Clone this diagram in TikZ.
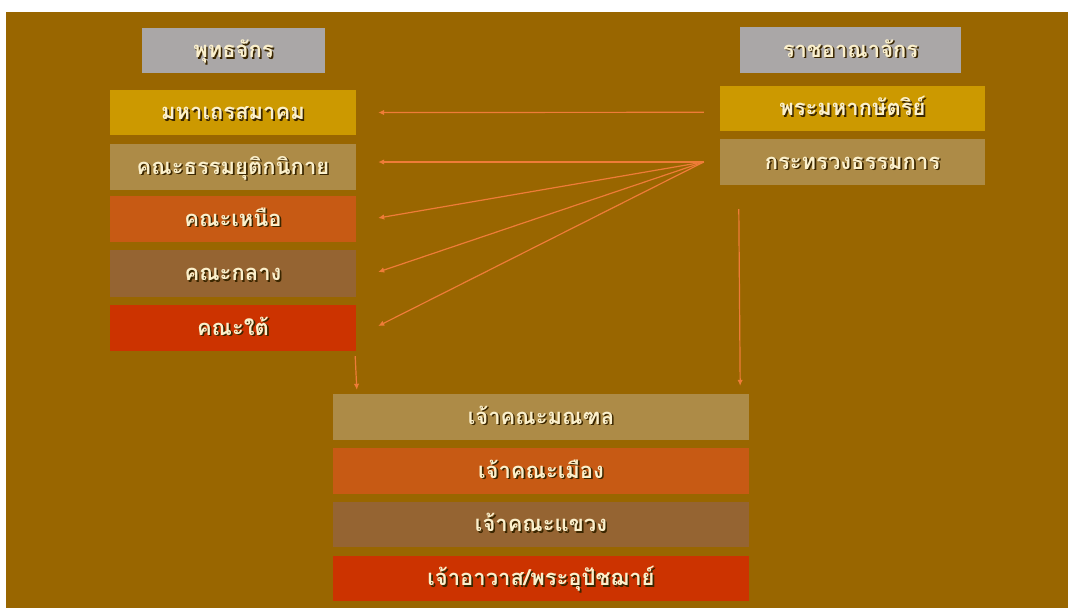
\documentclass[tikz,border=0pt]{standalone}
\usepackage{fontspec}
\newfontfamily\thaifont[Script=Thai]{Loma}
\usetikzlibrary{arrows.meta}
\definecolor{bgbrown}{HTML}{996600}
\definecolor{cgrey}{HTML}{AAA7A7}
\definecolor{cgold}{HTML}{CC9900}
\definecolor{ctan}{HTML}{AD8B47}
\definecolor{corange}{HTML}{C75A14}
\definecolor{cbrown}{HTML}{956432}
\definecolor{cred}{HTML}{CC3300}
\definecolor{carrow}{HTML}{EE7C38}
\definecolor{ctext}{HTML}{FBF0CC}
\definecolor{cshadow}{HTML}{3A2600}
\newcommand\shtxt[1]{\makebox[0pt][l]{\hspace{1.6pt}\raisebox{-1.6pt}{\color{cshadow}#1}}#1}
\tikzset{
  box/.style={rectangle, inner sep=0pt, text=ctext, text height=18pt, text depth=4pt,
    font=\thaifont\bfseries\fontsize{22}{26}\selectfont},
  conn/.style={draw=carrow, line width=1.2pt, -{Latex[length=6pt,width=5.5pt]}},
}
\begin{document}
\begin{tikzpicture}[x=1pt,y=-1pt]
\useasboundingbox (0,0) rectangle (1068,608);
\fill[white] (0,0) rectangle (1068,608);
\fill[bgbrown] (6,12) rectangle (1068,608);
% left column
\node[box, fill=cgrey, minimum width=183pt, minimum height=45pt] (bud) at (233.5,50.5) {\shtxt{พุทธจักร}};
\node[box, fill=cgold, minimum width=246pt, minimum height=45pt] (mahathera) at (233,112.5) {\shtxt{มหาเถรสมาคม}};
\node[box, fill=ctan, minimum width=246pt, minimum height=46pt] (thammayut) at (233,167) {\shtxt{คณะธรรมยุติกนิกาย}};
\node[box, fill=corange, minimum width=246pt, minimum height=46pt] (nuea) at (233,219) {\shtxt{คณะเหนือ}};
\node[box, fill=cbrown, minimum width=246pt, minimum height=47pt] (klang) at (233,273.5) {\shtxt{คณะกลาง}};
\node[box, fill=cred, minimum width=246pt, minimum height=46pt] (tai) at (233,328) {\shtxt{คณะใต้}};
% right column
\node[box, fill=cgrey, minimum width=221pt, minimum height=46pt] (rat) at (850.5,50) {\shtxt{ราชอาณาจักร}};
\node[box, fill=cgold, minimum width=265pt, minimum height=45pt] (king) at (852.5,108.5) {\shtxt{พระมหากษัตริย์}};
\node[box, fill=ctan, minimum width=265pt, minimum height=46pt] (ministry) at (852.5,162) {\shtxt{กระทรวงธรรมการ}};
% bottom column
\node[box, fill=ctan, minimum width=416pt, minimum height=46pt] (mandala) at (541,417) {\shtxt{เจ้าคณะมณฑล}};
\node[box, fill=corange, minimum width=416pt, minimum height=46pt] (mueang) at (541,471) {\shtxt{เจ้าคณะเมือง}};
\node[box, fill=cbrown, minimum width=416pt, minimum height=45pt] (khwaeng) at (541,524.5) {\shtxt{เจ้าคณะแขวง}};
\node[box, fill=cred, minimum width=416pt, minimum height=45pt] (awat) at (541,578.5) {\shtxt{เจ้าอาวาส/พระอุปัชฌาย์}};
% connectors
\coordinate (kingsrc) at ([xshift=-16pt,yshift=-3.8pt]king.west);
\coordinate (minsrc) at ([xshift=-16pt]ministry.west);
\draw[conn] (kingsrc) -- ([xshift=22pt]mahathera.east);
\draw[conn] (minsrc) -- ([xshift=22pt,yshift=5pt]thammayut.east);
\draw[conn] (minsrc) -- ([xshift=22pt,yshift=1pt]nuea.east);
\draw[conn] (minsrc) -- ([xshift=22pt,yshift=1.5pt]klang.east);
\draw[conn] (minsrc) -- ([xshift=22pt,yshift=2pt]tai.east);
\draw[conn] ([xshift=-1pt,yshift=-5pt]tai.south east) -- ([xshift=24pt,yshift=4pt]mandala.north west);
\draw[conn] ([xshift=19pt,yshift=-24pt]ministry.south west) -- ([xshift=-9pt,yshift=8pt]mandala.north east);
\end{tikzpicture}
\end{document}
